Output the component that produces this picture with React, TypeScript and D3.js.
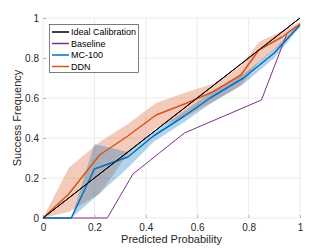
import React, { useEffect, useRef } from "react";
import * as d3 from "d3";

// predicted probability / success frequency
const idealX = [0, 1];
const idealY = [0, 1];

const baselineX = [0, 0.25, 0.35, 0.55, 0.85, 0.95, 1];
const baselineY = [0, 0, 0.22, 0.425, 0.59, 0.925, 0.97];

const mcX = [0, 0.11, 0.2, 0.33, 0.43, 0.55, 0.65, 0.78, 0.9, 1];
const mcY = [0, 0, 0.245, 0.305, 0.41, 0.51, 0.6, 0.7, 0.825, 0.965];
const mcLo = [0, 0, 0.1, 0.25, 0.38, 0.48, 0.57, 0.67, 0.8, 0.955];
const mcHi = [0, 0, 0.37, 0.33, 0.43, 0.535, 0.625, 0.72, 0.845, 0.975];

const ddnX = [0, 0.1, 0.22, 0.33, 0.44, 0.56, 0.66, 0.77, 0.84, 0.93, 1];
const ddnY = [0, 0.12, 0.315, 0.41, 0.515, 0.575, 0.63, 0.715, 0.84, 0.905, 0.97];
const ddnLo = [0, 0.03, 0.12, 0.32, 0.45, 0.51, 0.58, 0.66, 0.78, 0.87, 0.96];
const ddnHi = [0, 0.25, 0.38, 0.47, 0.575, 0.63, 0.67, 0.76, 0.88, 0.935, 0.98];

const ticks = [0, 0.2, 0.4, 0.6, 0.8, 1];
const legendLabels = ["Ideal Calibration", "Baseline", "MC-100", "DDN"];
const colors = ["#000000", "#7E2F8E", "#0072BD", "#D95319"];

const FONT = "'Liberation Sans', Arial, Helvetica, sans-serif";

const Chart = () => {
  const ref = useRef<SVGSVGElement>(null);

  useEffect(() => {
    const width = 332;
    const height = 249;
    const margin = { top: 18, right: 32, bottom: 31, left: 43 };
    const w = width - margin.left - margin.right;
    const h = height - margin.top - margin.bottom;

    const x = d3.scaleLinear().domain([0, 1]).range([0, w]);
    const y = d3.scaleLinear().domain([0, 1]).range([h, 0]);

    const svg = d3.select(ref.current);
    svg.selectAll("*").remove();
    svg.attr("width", width).attr("height", height);

    const g = svg
      .append("g")
      .attr("transform", `translate(${margin.left}, ${margin.top})`);

    // grid
    g.append("g")
      .selectAll("line")
      .data(ticks)
      .join("line")
      .attr("x1", (d) => x(d))
      .attr("x2", (d) => x(d))
      .attr("y1", 0)
      .attr("y2", h)
      .attr("stroke", "#e6e6e6")
      .attr("stroke-width", 0.8);
    g.append("g")
      .selectAll("line")
      .data(ticks)
      .join("line")
      .attr("y1", (d) => y(d))
      .attr("y2", (d) => y(d))
      .attr("x1", 0)
      .attr("x2", w)
      .attr("stroke", "#e6e6e6")
      .attr("stroke-width", 0.8);

    // axes (MATLAB style, inward ticks, no baseline)
    const xAxis = (sel) =>
      sel
        .attr("transform", `translate(0, ${h})`)
        .call(
          d3.axisBottom(x).tickValues(ticks).tickFormat(d3.format("~g")).tickSizeInner(-3).tickSizeOuter(0).tickPadding(6)
        )
        .call((s) => s.select(".domain").remove());
    const yAxis = (sel) =>
      sel
        .call(
          d3.axisLeft(y).tickValues(ticks).tickFormat(d3.format("~g")).tickSizeInner(-3).tickSizeOuter(0).tickPadding(4)
        )
        .call((s) => s.select(".domain").remove());

    [g.append("g").call(xAxis), g.append("g").call(yAxis)].forEach((a) => {
      a.selectAll("line").attr("stroke", "#8c8c8c").attr("stroke-width", 0.6);
      a.selectAll("text")
        .attr("fill", "#262626")
        .style("font-family", FONT)
        .style("font-size", "10px");
    });

    const zip = (xs: number[], ys: number[]) => xs.map((v, i) => [v, ys[i]]);

    const area = d3
      .area<any>()
      .x((d) => x(d[0]))
      .y0((d) => y(d[1]))
      .y1((d) => y(d[2]));
    const line = d3
      .line<any>()
      .x((d) => x(d[0]))
      .y((d) => y(d[1]));

    // bands
    g.append("path")
      .attr("d", area(ddnX.map((v, i) => [v, ddnLo[i], ddnHi[i]])))
      .attr("fill", colors[3])
      .attr("fill-opacity", 0.3);
    g.append("path")
      .attr("d", area(mcX.map((v, i) => [v, mcLo[i], mcHi[i]])))
      .attr("fill", colors[2])
      .attr("fill-opacity", 0.3);

    // lines
    const series = [
      { pts: zip(idealX, idealY), c: colors[0], sw: 1 },
      { pts: zip(baselineX, baselineY), c: colors[1], sw: 1 },
      { pts: zip(mcX, mcY), c: colors[2], sw: 1.5 },
      { pts: zip(ddnX, ddnY), c: colors[3], sw: 1.5 },
    ];
    g.append("g")
      .selectAll("path")
      .data(series)
      .join("path")
      .attr("d", (d) => line(d.pts))
      .attr("fill", "none")
      .attr("stroke", (d) => d.c)
      .attr("stroke-width", (d) => d.sw)
      .attr("stroke-linejoin", "round");
    // ideal on top like the reference
    g.append("path")
      .attr("d", line(series[0].pts))
      .attr("fill", "none")
      .attr("stroke", colors[0])
      .attr("stroke-width", 1);

    // axis titles
    g.append("text")
      .attr("x", w / 2)
      .attr("y", h + 25)
      .attr("text-anchor", "middle")
      .attr("fill", "#262626")
      .style("font-family", FONT)
      .style("font-size", "11px")
      .text("Predicted Probability");
    g.append("text")
      .attr("transform", `translate(${21 - margin.left}, ${h / 2}) rotate(-90)`)
      .attr("text-anchor", "middle")
      .attr("fill", "#262626")
      .style("font-family", FONT)
      .style("font-size", "11px")
      .text("Success Frequency");

    // legend
    const lg = svg.append("g").attr("transform", "translate(49, 24)");
    lg.append("rect")
      .attr("x", 0.5)
      .attr("y", 0.5)
      .attr("width", 89)
      .attr("height", 48)
      .attr("fill", "white")
      .attr("stroke", "#262626")
      .attr("stroke-width", 0.6);
    const item = lg
      .selectAll("g.item")
      .data(legendLabels)
      .join("g")
      .attr("class", "item")
      .attr("transform", (d, i) => `translate(0, ${8 + i * 11.5})`);
    item
      .append("line")
      .attr("x1", 3)
      .attr("x2", 20)
      .attr("stroke", (d, i) => colors[i])
      .attr("stroke-width", 1.5);
    item
      .append("text")
      .attr("x", 22)
      .attr("dy", "0.35em")
      .attr("fill", "#000")
      .style("font-family", FONT)
      .style("font-size", "9px")
      .text((d) => d);
  });

  return (
    <div style={{ position: "absolute", left: 0, top: 0 }}>
      <svg ref={ref} style={{ display: "block" }}></svg>
    </div>
  );
};

export default function App() {
  return <Chart />;
}
